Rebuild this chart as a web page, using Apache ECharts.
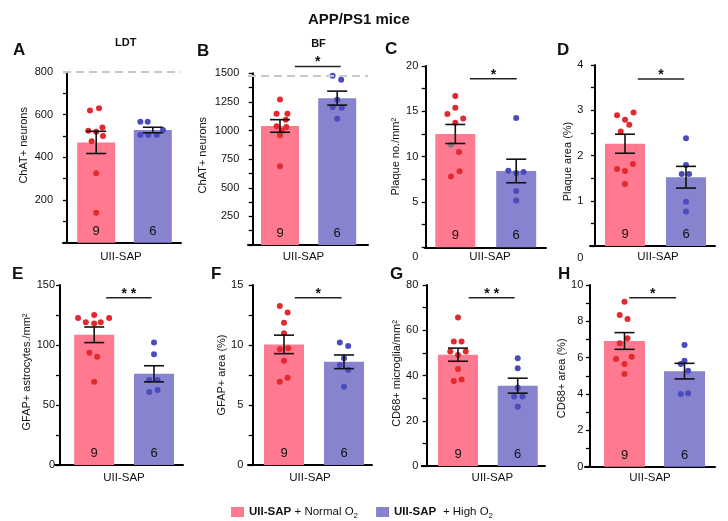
<!DOCTYPE html>
<html><head><meta charset="utf-8">
<script src="https://cdn.jsdelivr.net/npm/echarts@6/dist/echarts.min.js"></script>
<style>html,body{margin:0;padding:0;background:#fff}#c{width:728px;height:521px}</style>
</head><body><div id="c"></div>
<script>
// ---------------- data ----------------
const mainTitle = 'APP/PS1 mice';
const panels = ['A','B','C','D','E','F','G','H'];
const subTitles = ['LDT','BF',null,null,null,null,null,null];
const yNames = ['ChAT+ neurons','ChAT+ neurons','Plaque no./mm²','Plaque area (%)','GFAP+ astrocytes./mm²','GFAP+ area (%)','CD68+ microglia/mm²','CD68+ area (%)'];
const yMax  = [800,1500,20,4,150,15,80,10];
const yStep = [200,250,5,1,50,5,20,2];
const groupLabel = 'UII-SAP';
const refLine = [800,1475,null,null,null,null,null,null];

const meanNormal = [470,1040,12.5,2.26,108.5,10.05,49.2,6.92];
const semNormal  = [52,55,1.05,0.21,6.5,0.77,2.9,0.46];
const meanHigh   = [528,1283,8.42,1.52,76,8.6,35.5,5.26];
const semHigh    = [13,61,1.3,0.24,6.7,0.57,3.3,0.43];

const ptsNormal = [
  [630,620,540,525,520,500,476,325,140],
  [1272,1147,1147,1095,1037,1030,1000,958,688],
  [16.7,15.4,14.7,14.2,13.75,11.3,10.5,8.4,7.8],
  [2.95,2.89,2.79,2.68,2.53,1.81,1.70,1.66,1.37],
  [125,122.5,122.5,118.9,118,118.9,93.6,90.3,69.4],
  [13.25,12.7,11.86,10.97,9.72,9.64,8.69,7.28,6.94],
  [65.6,55,55,50.6,50.6,49.1,42.9,38.2,37.6],
  [9.08,8.35,8.13,7.07,6.79,6.05,5.93,5.65,5.10]
];
const jitNormal = [
  [0.05,-0.11,0.11,-0.14,0.0,0.12,-0.08,0,0],
  [0,-0.06,0.13,0.1,-0.06,0.11,0.03,0,0],
  [0,0,-0.13,0.13,0,-0.07,0.06,0.07,-0.07],
  [0.14,-0.13,0,0.07,-0.07,0.13,-0.13,0,0],
  [0,-0.27,0.25,-0.14,0,0.11,-0.08,0.05,0],
  [-0.07,0.06,0,0,0.07,-0.07,0,0.06,-0.07],
  [0,-0.07,0.06,-0.13,0.13,0,0,0.06,-0.07],
  [0,-0.08,0.05,0.05,-0.08,0.12,-0.14,0,0]
];
const ptsHigh = [
  [567,567,528,505,505,505],
  [1478,1443,1269,1205,1200,1104],
  [14.25,8.45,8.3,8.2,6.2,5.15],
  [2.38,1.79,1.59,1.59,0.98,0.76],
  [102,92.2,70.8,70.8,60.8,62.5],
  [10.2,9.92,8.9,8.33,7.92,6.53],
  [47.6,43.2,34.6,30.7,30.7,26.2],
  [6.70,5.83,5.65,5.28,4.04,4.0]
];
const jitHigh = [
  [-0.22,-0.09,0.18,-0.22,-0.08,0.07],
  [-0.08,0.07,0,-0.08,0.08,0],
  [0,-0.13,0.12,0,0,0],
  [0,0,-0.07,0.05,0,0],
  [0,0,-0.08,0.06,-0.08,0.06],
  [-0.07,0.07,0,-0.07,0.07,0],
  [0,0,0,-0.06,0.08,0],
  [0,0,-0.06,0.06,0.06,-0.06]
];
const grayPoint = [null,null,5,null,null,null,null,null];

const sigText = [null,'*','*','*','* *','*','* *','*'];
const sigFrom = [null,0.26,0.24,0.21,0.2,0.18,0.18,0.08];
const sigTo   = [null,1.06,1.01,0.97,0.96,0.96,0.95,0.86];
const sigY    = [null,1559,18.6,3.69,139.4,13.94,74.4,9.3];

// ---------------- layout / style ----------------
const FONT = '"Liberation Sans", Arial, Helvetica, sans-serif';
const C_PINK = '#FF7A91', C_BLUE = '#8783CF', C_RED = '#E3292D', C_DBLUE = '#4A4CBB', C_GRAY = '#808080';
const layout = [
 {xs:63,   xe:181, ax:67,    top:72,   bot:242.7, cp:96.2,  cb:152.8, bw:38, nGap:37.7, nPad:[0,0,0,24], lm:14,  zero:'hide', xnGap:7.8, xnPad:[0,2,0,0]},
 {xs:248,  xe:368, ax:252.7, top:73.3, bot:245,   cp:280,   cb:337.2, bw:38, nGap:44.7, nPad:[0,0,0,8],  lm:13.4,zero:'hide', xnGap:5.5, xnPad:[0,9,0,0]},
 {xs:425,  xe:546, ax:425.7, top:66,   bot:247.3, cp:455.3, cb:516.2, bw:40, nGap:24,   nPad:0,          lm:7.4, zero:20,     xnGap:3.2, xnPad:[0,0,0,9]},
 {xs:590,  xe:715, ax:595,   top:65,   bot:246,   cp:625,   cb:686,   bw:40, nGap:21.7, nPad:[0,12,0,0], lm:11.7,zero:24,     xnGap:4.5, xnPad:[0,0,0,11]},
 {xs:55,   xe:183, ax:60,    top:285,  bot:465,   cp:94.2,  cb:154,   bw:40, nGap:26.7, nPad:[0,0,0,6],  lm:5,   zero:'show', xnGap:6.8, xnPad:[0,0,0,10]},
 {xs:248,  xe:372, ax:252.7, top:285,  bot:465,   cp:284,   cb:344,   bw:40, nGap:21,   nPad:0,          lm:9.4, zero:'show', xnGap:6.8, xnPad:0},
 {xs:421.7,xe:545, ax:426.7, top:285,  bot:466,   cp:458,   cb:517.7, bw:40, nGap:23.4, nPad:[0,0,0,4],  lm:8.4, zero:'show', xnGap:5.8, xnPad:[0,0,0,18]},
 {xs:585,  xe:715, ax:590,   top:285,  bot:466.7, cp:624.5, cb:684.5, bw:41, nGap:20,   nPad:[0,5,0,0],  lm:6.7, zero:'show', xnGap:5.1, xnPad:0}
];
const letterPos = [[13,42],[197,43],[385,41],[557,42],[12,266],[211,266],[390,266],[558,266]];
const subPos = [[125.8,37.5],[318.5,38]];

const grid = [], xAxis = [], yAxis = [], series = [], titles = [];
titles.push({text: mainTitle, left: 303, top: 7, textStyle:{fontSize:15, fontWeight:'bold', color:'#111', fontFamily:FONT}});

function errRender(params, api){
  const x = api.value(0), lo = api.value(1), hi = api.value(2);
  const a = api.coord([x, lo]), b = api.coord([x, hi]);
  const hw = 10, st = {stroke:'#111', lineWidth:1.6};
  return {type:'group', children:[
    {type:'line', shape:{x1:a[0],y1:a[1],x2:b[0],y2:b[1]}, style:st},
    {type:'line', shape:{x1:a[0]-hw,y1:a[1],x2:a[0]+hw,y2:a[1]}, style:st},
    {type:'line', shape:{x1:b[0]-hw,y1:b[1],x2:b[0]+hw,y2:b[1]}, style:st}
  ]};
}
function sigRender(text){
  return function(params, api){
    const p1 = api.coord([api.value(0), api.value(2)]);
    const p2 = api.coord([api.value(1), api.value(2)]);
    return {type:'group', children:[
      {type:'line', shape:{x1:p1[0],y1:p1[1],x2:p2[0],y2:p2[1]}, style:{stroke:'#222', lineWidth:1.5}},
      {type:'text', x:(p1[0]+p2[0])/2, y:p1[1]-4,
       style:{text:text, align:'center', verticalAlign:'middle', textAlign:'center', textVerticalAlign:'middle',
              fontSize:14, fontWeight:'bold', fill:'#111', fontFamily:FONT}}
    ]};
  };
}

panels.forEach((p, i) => {
  const L = layout[i];
  const unit = L.cb - L.cp;
  const xmin = -(L.cp - L.xs) / unit;
  const xmax = 1 + (L.xe - L.cb) / unit;
  grid.push({left:L.xs, top:L.top, width:L.xe-L.xs, height:L.bot-L.top, outerBoundsMode:'none', containLabel:false});
  xAxis.push({
    type:'value', gridIndex:i, min:xmin, max:xmax,
    axisLine:{show:true, onZero:false, lineStyle:{color:'#000', width:2}},
    axisTick:{show:false}, axisLabel:{show:false}, splitLine:{show:false},
    name: groupLabel, nameLocation:'middle', nameGap:L.xnGap,
    nameTextStyle:{fontSize:11.5, color:'#111', fontFamily:FONT, verticalAlign:'top', padding:L.xnPad}
  });
  const labelCfg = {fontSize:11, color:'#111', fontFamily:FONT, margin:L.lm, formatter: v => String(v)};
  if (L.zero === 'hide') labelCfg.showMinLabel = false;
  else if (typeof L.zero === 'number') {
    labelCfg.formatter = v => v === 0 ? '{z|0}' : String(v);
    labelCfg.rich = {z:{fontSize:11, color:'#111', fontFamily:FONT, padding:[L.zero,0,0,0]}};
  }
  yAxis.push({
    type:'value', gridIndex:i, min:0, max:yMax[i], interval:yStep[i], offset:-(L.ax - L.xs),
    axisLine:{show:true, onZero:false, lineStyle:{color:'#000', width:2}},
    axisTick:{show:true, inside:false, length:4, lineStyle:{color:'#000', width:1.3}},
    minorTick:{show:true, splitNumber:2, length:4, lineStyle:{color:'#000', width:1.3}},
    splitLine:{show:false},
    axisLabel:labelCfg,
    name:yNames[i], nameLocation:'middle', nameGap:L.nGap,
    nameTextStyle:{fontSize:11, color:'#111', fontFamily:FONT, padding:L.nPad}
  });
  const barLabel = (n) => ({show:true, position:'insideBottom', distance:5, formatter:String(n), fontSize:13, color:'#111', fontFamily:FONT});
  const normalBar = {
    name:'Normal', type:'bar', xAxisIndex:i, yAxisIndex:i, barWidth:L.bw, barGap:'-100%',
    data:[[0, meanNormal[i]]], itemStyle:{color:C_PINK}, label:barLabel(ptsNormal[i].length), z:2, silent:true
  };
  if (refLine[i] != null) {
    normalBar.markLine = {silent:true, symbol:['none','none'], label:{show:false},
      lineStyle:{type:[8,5], color:'#c8c8c8', width:2}, data:[{yAxis:refLine[i]}]};
  }
  series.push(normalBar);
  series.push({
    name:'High', type:'bar', xAxisIndex:i, yAxisIndex:i, barWidth:L.bw, barGap:'-100%',
    data:[[1, meanHigh[i]]], itemStyle:{color:C_BLUE}, label:barLabel(ptsHigh[i].length), z:2, silent:true
  });
  series.push({
    type:'scatter', xAxisIndex:i, yAxisIndex:i, symbolSize:6, z:3, silent:true,
    itemStyle:{color:C_RED, opacity:1},
    data: ptsNormal[i].map((v,k) => k === grayPoint[i]
      ? {value:[0 + jitNormal[i][k], v], itemStyle:{color:C_GRAY}}
      : [0 + jitNormal[i][k], v])
  });
  series.push({
    type:'scatter', xAxisIndex:i, yAxisIndex:i, symbolSize:6, z:3, silent:true,
    itemStyle:{color:C_DBLUE, opacity:1},
    data: ptsHigh[i].map((v,k) => [1 + jitHigh[i][k], v])
  });
  series.push({
    type:'custom', xAxisIndex:i, yAxisIndex:i, z:4, silent:true, renderItem:errRender,
    data:[[0, meanNormal[i]-semNormal[i], meanNormal[i]+semNormal[i]],
          [1, meanHigh[i]-semHigh[i], meanHigh[i]+semHigh[i]]]
  });
  if (sigText[i]) {
    series.push({
      type:'custom', xAxisIndex:i, yAxisIndex:i, z:4, silent:true, clip:false,
      renderItem:sigRender(sigText[i]),
      data:[[sigFrom[i], sigTo[i], sigY[i]]]
    });
  }
  titles.push({text:p, left:letterPos[i][0], top:letterPos[i][1], padding:0,
    textStyle:{fontSize:17, fontWeight:'bold', color:'#111', fontFamily:FONT}});
  if (subTitles[i]) {
    titles.push({text:subTitles[i], left:subPos[i][0], top:subPos[i][1], textAlign:'center', padding:0,
      textStyle:{fontSize:11, fontWeight:'bold', color:'#111', fontFamily:FONT}});
  }
});

const chart = echarts.init(document.getElementById('c'), null, {renderer:'canvas'});
chart.setOption({
  animation:false,
  backgroundColor:'#fff',
  textStyle:{fontFamily:FONT},
  title:titles,
  grid:grid, xAxis:xAxis, yAxis:yAxis, series:series,
  legend:{
    data:['Normal','High'], left:226, top:501, itemWidth:13, itemHeight:10, itemGap:18, icon:'rect',
    selectedMode:false,
    formatter: n => n === 'Normal' ? '{b|UII-SAP} {t|+ Normal O}{s|2}' : '{b|UII-SAP}  {t|+ High O}{s|2}',
    textStyle:{fontFamily:FONT, color:'#111', rich:{
      b:{fontSize:11.5, fontWeight:'bold', color:'#111', fontFamily:FONT, lineHeight:16},
      t:{fontSize:11.5, color:'#111', fontFamily:FONT, lineHeight:16},
      s:{fontSize:8, color:'#111', fontFamily:FONT, lineHeight:8, verticalAlign:'bottom'}
    }}
  }
});
</script>
</body></html>
